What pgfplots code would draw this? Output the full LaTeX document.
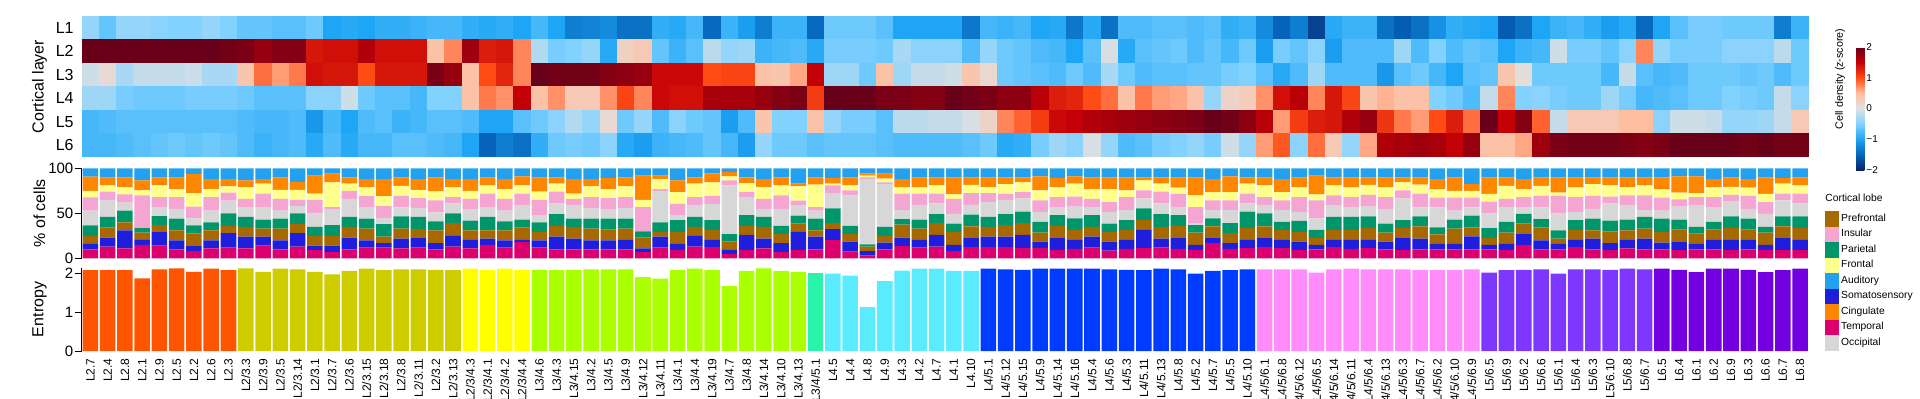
\documentclass[border=0pt]{standalone}
\usepackage{fontspec}
\setmainfont{Liberation Sans}
\usepackage{pgfplots}
\usepackage{pgfplotstable}
\pgfplotsset{compat=1.18}

\definecolor{cPre}{RGB}{168,104,0}
\definecolor{cIns}{RGB}{245,165,210}
\definecolor{cPar}{RGB}{0,150,105}
\definecolor{cFro}{RGB}{255,255,140}
\definecolor{cAud}{RGB}{35,160,240}
\definecolor{cSom}{RGB}{30,30,220}
\definecolor{cCin}{RGB}{255,135,0}
\definecolor{cTem}{RGB}{220,0,110}
\definecolor{cOcc}{RGB}{215,215,215}
\definecolor{g1}{RGB}{255,85,0}
\definecolor{g2}{RGB}{205,205,0}
\definecolor{g3}{RGB}{255,255,0}
\definecolor{g4}{RGB}{170,255,0}
\definecolor{g5}{RGB}{40,245,170}
\definecolor{g6}{RGB}{90,235,255}
\definecolor{g7}{RGB}{0,60,255}
\definecolor{g8}{RGB}{255,140,250}
\definecolor{g9}{RGB}{125,55,255}
\definecolor{g10}{RGB}{115,0,225}

\newlength\cellw \setlength\cellw{8.75pt}
\newlength\cellh \setlength\cellh{11.85pt}
\pgfdeclareplotmark{cell}{\pgfpathrectangle{\pgfpoint{-0.5\cellw}{-0.5\cellh}}{\pgfpoint{\cellw}{\cellh}}\pgfusepathqfill}

\pgfplotstableread{
i lab h1 h2 h3 h4 h5 h6 T S P Pa O I F C A E
0 L2.7 -0.4 2 -0.1 -0.35 -0.8 -0.8 10 6.6 8 12 16.5 14.6 7.3 15.7 9.3 2.08
1 L2.4 -0.65 2 0.1 -0.35 -0.75 -0.8 13 10 11 12 19 9 7 9 10 2.08
2 L2.8 -0.4 2 -0.3 -0.55 -0.7 -0.75 11 20 9 13 9 9 8 11 10 2.08
3 L2.1 -0.4 2 -0.15 -0.6 -0.7 -0.7 15 5.5 8 5 0 36.5 5.5 11 13.5 1.87
4 L2.9 -0.45 2 -0.15 -0.6 -0.7 -0.65 14 15 8 10 10 11 13 9 10 2.10
5 L2.5 -0.5 2 -0.15 -0.6 -0.7 -0.6 10 10 11 13 11 13 9 13 10 2.13
6 L2.2 -0.5 2 -0.12 -0.55 -0.7 -0.65 8 5.5 14 9 8 13 15 21 6.5 2.04
7 L2.6 -0.4 2 -0.3 -0.55 -0.7 -0.6 11 9 11 9 13 15 9 11 12 2.12
8 L2.3 -0.5 1.95 -0.3 -0.55 -0.7 -0.65 12 16 8 14 14 9 7 8 12 2.08
9 L2/3.3 -0.65 1.9 0.4 -0.6 -0.75 -0.75 11 13 11 11 11 9 13 7.5 13.5 2.13
10 L2/3.9 -0.65 1.75 0.85 -0.7 -0.8 -0.85 14 10 9 10 14 15 11 5 12 2.04
11 L2/3.5 -0.7 1.85 0.65 -0.7 -0.8 -0.8 10 10 13 11 9 13 10 14 10 2.12
12 L2/3.14 -0.7 1.85 0.8 -0.7 -0.75 -0.75 13 15 10 12 8 7 11 9 15 2.10
13 L2/3.1 -0.6 1.35 1.4 -0.45 -1.1 -0.95 9 5 11 10 15 15 7 20 8 2.04
14 L2/3.7 -1.0 1.4 1.35 -0.45 -0.8 -0.75 7 7 11 12 17 3 27.5 9.5 6 1.97
15 L2/3.6 -0.95 1.4 1.35 -0.1 -1.0 -0.95 10 13 12 11 20 9 8 7 10 2.06
16 L2/3.15 -1.0 1.6 1.0 -0.6 -0.75 -0.8 12 8 13 11 13 12 10 9 12 2.12
17 L2/3.18 -0.9 1.4 1.35 -0.7 -0.7 -0.8 12 5 7 14 7 13 11 19 12 2.08
18 L2/3.8 -0.9 1.4 1.35 -0.7 -0.85 -0.7 11 11 11 13.5 10 13 11 9.5 10 2.10
19 L2/3.11 -0.85 1.4 1.35 -0.8 -0.8 -0.7 12 10.5 10 13.5 10 11 9 12 12 2.10
20 L2/3.2 -0.8 0.45 1.9 -0.5 -0.7 -0.75 10 7 14 10 10 13.5 10 15.5 10 2.09
21 L2/3.13 -0.8 0.75 1.75 -0.5 -0.7 -0.8 13 12 14 11 11 7 11 9 12 2.08
22 L2/3/4.3 -0.9 1.7 0.45 0.45 -0.75 -1.0 11 10 10 11 12 12 9 13 12 2.12
23 L2/3/4.1 -0.95 1.3 1.0 0.8 -1.0 -1.5 15 7 9 15 11 15 9 9 10 2.09
24 L2/3/4.2 -0.9 1.35 1.25 0.7 -1.0 -1.3 12 8 11 10 12 13 11 11 12 2.12
25 L2/3/4.4 -1.0 0.75 0.75 1.5 -0.7 -1.4 18 3 13 9 16 13 9 10 9 2.08
26 L3/4.6 -0.8 -0.25 2.0 0.45 -0.6 -0.9 12 8 9 11 8 17 9 16 10 2.09
27 L3/4.3 -1.0 -0.55 1.95 0.7 -0.45 -0.6 10 14 12 13 12 13 9 7 10 2.08
28 L3/4.15 -1.3 -0.5 1.95 0.35 -0.25 -0.55 10 12 13 9 15 7 6 16 12 2.09
29 L3/4.2 -1.25 -0.4 1.95 0.35 -0.4 -0.6 10 10 13 11 12 12 12 8 12 2.10
30 L3/4.5 -1.2 -0.95 1.85 0.7 0.1 -0.45 10 10 12 12 10 13 10 12 11 2.10
31 L3/4.9 -1.4 0.25 1.8 1.05 -0.6 -0.95 10 11 12 11 12 12 12 10 10 2.10
32 L3/4.12 -1.4 0.35 1.75 0.75 -0.4 -1.05 7 4 12 7 0 27 8 27 8 1.90
33 L3/4.11 -0.9 -0.65 1.45 1.45 -0.75 -0.85 12 12 5 11 35 2 11 4 8 1.86
34 L3/4.1 -0.95 -0.85 1.45 1.4 -0.45 -0.8 9.5 7 13 13 5 13 13 13 13.5 2.09
35 L3/4.4 -0.8 -0.7 1.45 1.4 -0.6 -0.75 13 12 10 11 13 9 15 7 10 2.12
36 L3/4.19 -1.45 -0.2 1.0 1.65 -0.65 -0.65 12.5 8 11 11 18 9 15 10 5.5 2.08
37 L3/4.7 -0.85 -0.4 1.05 1.65 -1.05 -0.8 5 5 8.5 8.5 54 5.5 4.5 5 4 1.67
38 L3/4.8 -1.05 -0.35 1.05 1.65 -0.75 -1.05 9.5 16.5 10 12 20 5.5 10 6.5 10 2.06
39 L3/4.14 -1.3 -0.85 0.45 1.75 0.4 -0.4 11 11 13 11 9 11 13.5 8.5 12 2.13
40 L3/4.10 -0.85 -0.8 0.4 1.85 -0.5 -0.6 7 10 10 9 19 15 11 9 10 2.06
41 L3/4.13 -0.85 -0.75 0.6 1.9 -0.5 -0.6 9.5 20 9 9 11 5.5 16 3 17 2.03
42 L3/4/5.1 -1.45 -0.95 1.5 1.1 0.45 -0.7 10 14 7 13 9 4 25 8 10 2.01
43 L4.5 -0.6 -0.55 -0.35 2.0 -0.4 -0.65 20.5 12 6.5 16.5 16.5 9 2 6.5 10.5 1.99
44 L4.4 -0.6 -0.55 -0.35 2.0 -0.55 -0.65 7.5 11 8.5 9 34 5.5 5.5 9 10 1.94
45 L4.8 -0.6 -0.55 -0.6 2.0 -0.55 -0.65 3 5 5 2.5 72.5 2 2 2.5 5.5 1.13
46 L4.9 -0.7 -0.6 0.45 1.9 -0.7 -0.7 10 7.5 7.5 10 47.5 2 4 5.5 6 1.80
47 L4.3 -1.0 -0.3 -0.35 1.9 -0.2 -0.75 13.5 9.5 14.5 6 10 18.5 7 9 12 2.07
48 L4.2 -1.0 -0.45 -0.15 1.85 -0.2 -0.75 12 9 12 10 16 13 7 11 10 2.12
49 L4.7 -1.0 -0.45 -0.15 1.85 -0.15 -0.75 13 13 13 10 12 11 9 9 10 2.12
50 L4.1 -1.0 -0.45 -0.1 2.0 -0.15 -0.75 8 7 14.5 9 11 16.5 5 19 10 2.06
51 L4.10 -1.35 -0.75 0.4 1.95 -0.05 -0.7 12.5 10 13 13 11 13 9 8.5 10 2.06
52 L4/5.1 -0.8 -0.4 0.15 1.9 0.2 -0.6 12.5 11.5 11 11 16.5 10 6.5 11 10 2.12
53 L4/5.12 -0.85 -0.6 -0.6 1.8 0.75 -0.95 12.5 11.5 13 12 16 6.5 11 7.5 10 2.10
54 L4/5.15 -0.8 -0.65 -0.65 1.8 0.9 -0.9 11.5 14.5 13 13 14.5 7 11 5.5 10 2.09
55 L4/5.9 -1.0 -0.75 -0.7 1.55 1.1 -0.55 11.5 7 10 12 11 13 11 15.5 9 2.12
56 L4/5.14 -0.95 -0.8 -0.75 1.3 1.45 -0.35 9.5 13 13.5 12 9 11 11 10.5 10.5 2.12
57 L4/5.16 -1.35 -1.0 -0.6 1.25 1.5 -0.45 10.5 10 11 13 13 11 14.5 8 9 2.12
58 L4/5.4 -0.95 -0.7 -0.75 1.0 1.6 -0.05 12 12 11 13 9 9 11 13 10 2.12
59 L4/5.6 -1.4 -0.05 -0.3 0.85 1.65 -0.4 8.5 10 11 9 13 11 14.5 13 10 2.10
60 L4/5.3 -0.75 -0.95 -0.6 0.45 1.7 -0.75 10.5 10 11 11 11 14.5 7.5 14.5 10 2.09
61 L4/5.11 -0.75 -0.7 -0.75 0.8 1.75 -0.7 11.5 20 11 13 11 9 11 3.5 10 2.08
62 L4/5.13 -0.7 -0.65 -0.7 0.65 1.8 -0.55 12 10 13 14 12 13 9 7 10 2.12
63 L4/5.8 -0.7 -0.6 -0.7 0.6 1.85 -0.5 10.5 12 13.5 12 9 14.5 7 11.5 10 2.10
64 L4/5.2 -0.75 -0.75 -0.65 0.45 1.9 -0.4 9.5 5.5 13.5 8.5 2 18 13 20 10 1.99
65 L4/5.7 -0.7 -0.65 -0.65 -0.4 2.0 -0.55 17 5.5 13 9 9 11 9 14.5 12 2.06
66 L4/5.5 -0.9 -0.8 -0.55 0.2 1.95 -0.1 10.5 6.5 11 11 14.5 11 9 17.5 9 2.08
67 L4/5.10 -0.85 -0.6 -0.5 0.3 1.8 -0.4 11.5 9 13 18.5 9 11 11 7 10 2.10
68 L4/5/6.1 -1.2 -1.05 -0.7 0.7 1.55 0.65 12.5 10 13 14.5 9 9 13 9 10 2.10
69 L4/5/6.8 -1.5 -0.55 -0.95 1.4 0.65 0.95 11.5 9 11 9 13 11 9 14.5 12 2.10
70 L4/5/6.12 -1.3 -0.65 -0.75 1.55 1.1 -0.45 9.5 9 11 12 10 16.5 11 11 10 2.10
71 L4/5/6.5 -1.75 -0.45 -0.35 0.75 1.3 0.85 10 5 7.5 9 13 20 6.5 21 8 2.02
72 L4/5/6.14 -0.95 -1.05 -0.75 1.35 1.35 0.35 12.5 8 11 14.5 13 11 11 9 10 2.10
73 L4/5/6.11 -0.85 -0.75 -0.75 1.05 1.6 -0.4 10.5 10 11 14.5 11 11 11 11 10 2.12
74 L4/5/6.4 -0.85 -0.75 -0.75 0.4 1.75 0.6 11.5 9 13 13 11 13 11 8.5 10 2.10
75 L4/5/6.13 -1.4 -0.75 -1.1 0.55 1.15 1.6 10 8.5 10 10 16.5 13 11 11 10 2.10
76 L4/5/6.3 -1.55 -0.35 -0.7 0.45 0.8 1.65 9.5 13 11 9 24 9 9 5.5 10 2.10
77 L4/5/6.7 -1.4 -0.75 -0.6 0.45 0.65 1.7 10 12 13.5 11 10 15.5 10 8 10 2.08
78 L4/5/6.2 -1.15 -0.5 -0.8 -0.5 1.0 1.65 10 6.5 10 8 22 11 9 11.5 12 2.08
79 L4/5/6.10 -0.9 -0.75 -1.0 -0.6 1.3 1.5 10 6.5 16.5 10 10 14.5 7.5 15 10 2.08
80 L4/5/6.9 -0.95 -0.65 -0.7 -0.75 0.85 1.75 10 14.5 10 13 9 11 7.5 7.5 17.5 2.10
81 L5/6.5 -1.0 -0.7 -0.65 -0.15 2.0 0.45 10 5 7.5 11 16.5 13 8.5 18.5 10 2.02
82 L5/6.9 -1.55 -1.0 0.4 0.75 1.5 0.45 9.5 7 12 12 16.5 9 14.5 9.5 10 2.08
83 L5/6.2 -1.4 -0.85 0.05 -0.5 1.85 0.6 15 12 11.5 11 7.5 11 9 11 12 2.09
84 L5/6.6 -1.0 -0.8 -0.6 -0.45 0.9 1.7 10 10 14.5 9 13 13 11 9.5 10 2.10
85 L5/6.1 -0.85 -0.1 -0.6 -0.55 -0.15 1.9 10 6 6 9 19 19.5 3.5 17 10 1.99
86 L5/6.4 -0.8 -0.55 -0.6 -0.6 0.35 1.95 12.5 8 11 11 9 16.5 11 11 10 2.10
87 L5/6.3 -0.9 -0.55 -0.6 -0.6 0.35 1.95 10 12 9 13 11 14.5 13 7.5 10 2.10
88 L5/6.10 -1.05 -0.65 -0.8 -0.35 0.35 1.95 9 8 13 12 19 7.5 12.5 9 10 2.09
89 L5/6.8 -0.95 -0.45 -0.15 -0.55 0.5 1.9 11 10 10 12 16 11 9 11 10 2.12
90 L5/6.7 -1.45 0.75 -0.7 -0.8 0.5 1.85 10 12 11 13 7.5 16.5 11 9 10 2.10
91 L6.5 -1.0 -0.4 -0.8 -0.75 -0.45 1.9 10 7.5 12 14.5 9 14.5 9 13.5 10 2.12
92 L6.4 -0.7 -0.55 -0.75 -0.7 -0.1 2.0 9 9 14 11 14.5 8 7.5 18 9 2.09
93 L6.1 -0.55 -0.55 -0.6 -0.6 -0.1 2.0 10 6.5 11 7.5 24 9 4.5 18.5 9 2.03
94 L6.2 -0.55 -0.55 -0.6 -0.6 -0.15 2.0 10 11 11 8.5 16.5 11 11 9 12 2.12
95 L6.9 -0.6 -0.45 -0.6 -0.5 -0.4 2.0 9.5 11 13 13 16.5 7.5 9 10.5 10 2.12
96 L6.3 -0.6 -0.45 -0.65 -0.55 -0.4 1.95 10 11 11 12 11 14.5 9 9.5 12 2.09
97 L6.6 -0.6 -0.45 -0.6 -0.6 -0.35 2.0 9.5 5.5 13.5 6.5 14.5 13 9 18.5 10 2.03
98 L6.7 -1.3 -0.2 -0.75 -0.15 -0.15 1.95 9 13.5 13 11 18 7.5 11 6 11 2.08
99 L6.8 -0.85 -0.6 -0.6 -0.45 0.35 1.95 9 11.5 13 13 14.5 11 9 9 10 2.12
}\data

\pgfplotsset{
  base/.style={scale only axis, width=863.5pt, xmin=-0.5, xmax=99.5,
    clip mode=individual,
    /pgf/number format/assume math mode=true,
    tick label style={font=\fontsize{7.5}{9}\selectfont},
    label style={font=\fontsize{8}{9.6}\selectfont},
    ylabel style={at={(axis description cs:-0.02443,0.5)}, anchor=center},
    every tick/.style={black, line width=0.5pt},
    axis line style={line width=0.5pt},
  },
  lobe/.style={legend image code/.code={\fill[#1] (0pt,-3.675pt) rectangle (6.5pt,3.675pt);}},
  hm/.style={scatter, only marks, mark=cell, point meta=explicit,
    scatter/use mapped color={draw=none, fill=mapped color}},
}

\begin{document}
\begin{tikzpicture}[x=1pt,y=1pt]
\useasboundingbox (0,0) rectangle (960,199);

% heatmap
\begin{axis}[base, at={(40.85pt,120.5pt)}, anchor=south west, height=70.5pt,
  ymin=0.5, ymax=6.5, y dir=reverse, ytick={1,2,3,4,5,6},
  yticklabels={L1,L2,L3,L4,L5,L6}, xtick=\empty,
  axis line style={draw=none}, major tick length=0pt,
  yticklabel style={font=\fontsize{8}{9.6}\selectfont, inner sep=0pt, xshift=-3.85pt},
  ylabel={Cortical layer},
  colormap={hmap}{rgb255=(10,35,105) rgb255=(5,100,185) rgb255=(30,165,245) rgb255=(130,210,255) rgb255=(225,225,225) rgb255=(255,190,160) rgb255=(255,75,20) rgb255=(195,0,5) rgb255=(105,0,25)},
  point meta min=-2, point meta max=2,
  colorbar,
  colorbar style={
    at={(parent axis.north east)}, anchor=north west,
    xshift=15.2pt, yshift=-15.5pt,
    scale only axis, width=4.15pt, height=61.5pt,
    ytick={-2,-1,0,1,2}, yticklabels={−2,−1,0,1,2},
    yticklabel style={font=\fontsize{5}{6}\selectfont, inner sep=0.8pt, xshift=0pt},
    axis line style={draw=none}, major tick length=0pt,
  },
  legend style={at={(axis description cs:1.00944,-0.383)}, anchor=north west,
    draw=none, fill=none, inner sep=0pt, row sep=0pt,
    font=\fontsize{5.15}{6}\selectfont, nodes={inner xsep=1pt, inner ysep=0pt}},
  legend cell align=left,
]
\addlegendimage{lobe=cPre}\addlegendentry{Prefrontal}
\addlegendimage{lobe=cIns}\addlegendentry{Insular}
\addlegendimage{lobe=cPar}\addlegendentry{Parietal}
\addlegendimage{lobe=cFro}\addlegendentry{Frontal}
\addlegendimage{lobe=cAud}\addlegendentry{Auditory}
\addlegendimage{lobe=cSom}\addlegendentry{Somatosensory}
\addlegendimage{lobe=cCin}\addlegendentry{Cingulate}
\addlegendimage{lobe=cTem}\addlegendentry{Temporal}
\addlegendimage{lobe=cOcc}\addlegendentry{Occipital}
\addplot[hm] table[x=i, y expr=1, meta=h1] {\data};
\addplot[hm] table[x=i, y expr=2, meta=h2] {\data};
\addplot[hm] table[x=i, y expr=3, meta=h3] {\data};
\addplot[hm] table[x=i, y expr=4, meta=h4] {\data};
\addplot[hm] table[x=i, y expr=5, meta=h5] {\data};
\addplot[hm] table[x=i, y expr=6, meta=h6] {\data};
\node[anchor=west, inner sep=0pt, font=\fontsize{5.15}{6}\selectfont] at (axis description cs:1.00944,-0.2908) {Cortical lobe};
\node[rotate=90, anchor=center, inner sep=0pt, font=\fontsize{5.35}{6.4}\selectfont] at (axis description cs:1.01812,0.5532) {Cell density (z-score)};
\end{axis}

% stacked composition
\begin{axis}[base, at={(40.85pt,69.85pt)}, anchor=south west, height=45pt,
  ymin=0, ymax=100, ytick={0,50,100}, xtick=\empty,
  axis x line=none, axis y line*=left, tick align=outside, major tick length=3.5pt,
  yticklabel style={inner sep=0.5pt},
  ylabel={\% of cells},
  ybar stacked, bar width=0.9,
]
\addplot[fill=cTem, draw=none] table[x=i, y=T] {\data};
\addplot[fill=cSom, draw=none] table[x=i, y=S] {\data};
\addplot[fill=cPre, draw=none] table[x=i, y=P] {\data};
\addplot[fill=cPar, draw=none] table[x=i, y=Pa] {\data};
\addplot[fill=cOcc, draw=none] table[x=i, y=O] {\data};
\addplot[fill=cIns, draw=none] table[x=i, y=I] {\data};
\addplot[fill=cFro, draw=none] table[x=i, y=F] {\data};
\addplot[fill=cCin, draw=none] table[x=i, y=C] {\data};
\addplot[fill=cAud, draw=none] table[x=i, y=A] {\data};
\end{axis}

% entropy
\begin{axis}[base, at={(40.85pt,23.5pt)}, anchor=south west, height=41.57pt,
  ymin=0, ymax=2.14, ytick={0,1,2},
  xtick={0,...,99}, xticklabels from table={\data}{lab},
  axis y line*=left, axis x line*=bottom, x axis line style={draw=none},
  tick align=outside, major tick length=3.5pt, x tick style={draw=none},
  xticklabel style={rotate=90, anchor=east, font=\fontsize{6}{7.2}\selectfont, inner sep=0pt},
  yticklabel style={inner sep=0.5pt},
  ylabel={Entropy},
  ybar, bar width=0.9, bar shift=0pt,
]
\addplot[fill=g1, draw=none, restrict x to domain=-0.5:8.5] table[x=i, y=E] {\data};
\addplot[fill=g2, draw=none, restrict x to domain=8.5:21.5] table[x=i, y=E] {\data};
\addplot[fill=g3, draw=none, restrict x to domain=21.5:25.5] table[x=i, y=E] {\data};
\addplot[fill=g4, draw=none, restrict x to domain=25.5:41.5] table[x=i, y=E] {\data};
\addplot[fill=g5, draw=none, restrict x to domain=41.5:42.5] table[x=i, y=E] {\data};
\addplot[fill=g6, draw=none, restrict x to domain=42.5:51.5] table[x=i, y=E] {\data};
\addplot[fill=g7, draw=none, restrict x to domain=51.5:67.5] table[x=i, y=E] {\data};
\addplot[fill=g8, draw=none, restrict x to domain=67.5:80.5] table[x=i, y=E] {\data};
\addplot[fill=g9, draw=none, restrict x to domain=80.5:90.5] table[x=i, y=E] {\data};
\addplot[fill=g10, draw=none, restrict x to domain=90.5:99.5] table[x=i, y=E] {\data};
\end{axis}
\end{tikzpicture}
\end{document}
